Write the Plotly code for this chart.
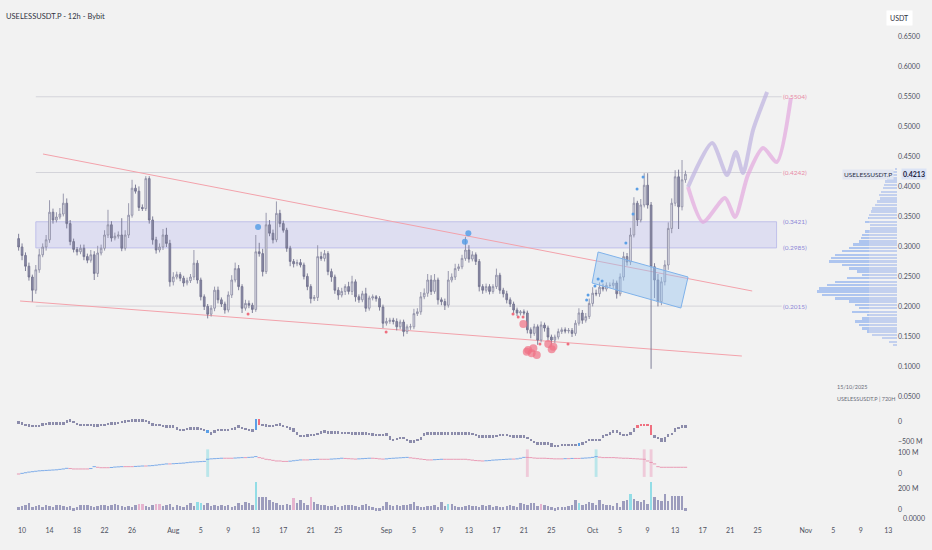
import pandas as pd
import plotly.graph_objects as go

# USELESSUSDT.P 12h candles
FIRST_OPEN = 0.314
CLOSE = [
    0.300, 0.286, 0.268, 0.250, 0.228, 0.262, 0.287, 0.300, 0.312, 0.358,
    0.345, 0.350, 0.355, 0.373, 0.339, 0.309, 0.296, 0.292, 0.298, 0.284,
    0.278, 0.287, 0.256, 0.290, 0.298, 0.320, 0.337, 0.315, 0.318, 0.320,
    0.298, 0.320, 0.353, 0.398, 0.393, 0.366, 0.364, 0.414, 0.345, 0.312,
    0.295, 0.300, 0.320, 0.306, 0.242, 0.250, 0.254, 0.248, 0.240, 0.244,
    0.250, 0.273, 0.245, 0.217, 0.201, 0.188, 0.198, 0.228, 0.212, 0.205,
    0.195, 0.220, 0.245, 0.264, 0.234, 0.198, 0.206, 0.203, 0.196, 0.292,
    0.289, 0.259, 0.337, 0.323, 0.312, 0.356, 0.339, 0.328, 0.298, 0.276,
    0.272, 0.274, 0.270, 0.251, 0.234, 0.214, 0.216, 0.284, 0.281, 0.289,
    0.259, 0.250, 0.228, 0.220, 0.226, 0.234, 0.226, 0.242, 0.217, 0.212,
    0.222, 0.198, 0.215, 0.217, 0.214, 0.200, 0.173, 0.176, 0.178, 0.176,
    0.167, 0.175, 0.159, 0.167, 0.167, 0.189, 0.192, 0.217, 0.223, 0.245,
    0.226, 0.245, 0.212, 0.209, 0.203, 0.245, 0.250, 0.264, 0.267, 0.281,
    0.295, 0.280, 0.287, 0.276, 0.234, 0.228, 0.234, 0.226, 0.234, 0.253,
    0.228, 0.222, 0.212, 0.205, 0.195, 0.190, 0.192, 0.190, 0.162, 0.156,
    0.167, 0.145, 0.170, 0.165, 0.150, 0.145, 0.150, 0.159, 0.162, 0.160,
    0.161, 0.156, 0.173, 0.190, 0.178, 0.184, 0.206, 0.223, 0.222, 0.233,
    0.230, 0.236, 0.236, 0.240, 0.222, 0.250, 0.284, 0.275, 0.320, 0.373,
    0.345, 0.370, 0.403, 0.370, 0.267, 0.245, 0.209, 0.242, 0.270, 0.331,
    0.373, 0.417, 0.367, 0.412, 0.4213,
]
UPPER_WICK = [
    .008, .006, .005, .006, .004, .008, .010, .006, .008, .020,
    .006, .008, .010, .016, .008, .006, .005, .004, .006, .006,
    .005, .008, .006, .012, .006, .008, .025, .006, .006, .006,
    .028, .008, .020, .014, .006, .008, .005, .004, .004, .006,
    .005, .006, .010, .012, .006, .008, .005, .004, .004, .005,
    .005, .022, .005, .004, .004, .004, .005, .006, .006, .004,
    .004, .006, .008, .010, .006, .004, .006, .005, .004, .028,
    .015, .008, .020, .008, .006, .020, .006, .005, .004, .004,
    .004, .005, .006, .004, .005, .004, .004, .019, .008, .006,
    .004, .005, .004, .005, .006, .004, .008, .010, .004, .004,
    .005, .010, .004, .004, .003, .004, .004, .006, .004, .004,
    .005, .004, .004, .004, .005, .008, .006, .008, .008, .010,
    .008, .010, .004, .004, .005, .015, .006, .008, .005, .006,
    .022, .008, .006, .004, .004, .004, .005, .004, .004, .011,
    .004, .004, .005, .004, .004, .004, .003, .004, .004, .004,
    .005, .004, .006, .004, .004, .004, .004, .005, .004, .004,
    .004, .004, .005, .008, .005, .006, .008, .010, .006, .008,
    .006, .005, .005, .006, .004, .006, .008, .006, .012, .010,
    .004, .010, .020, .020, .005, .006, .010, .008, .008, .010,
    .008, .011, .012, .033, .006,
]
LOWER_WICK = [
    .006, .008, .008, .006, .019, .006, .005, .004, .006, .005,
    .006, .004, .004, .004, .008, .006, .005, .006, .004, .006,
    .005, .004, .011, .006, .004, .004, .005, .006, .004, .004,
    .005, .004, .005, .004, .004, .006, .004, .004, .006, .008,
    .006, .004, .005, .006, .008, .006, .004, .005, .006, .004,
    .004, .005, .006, .006, .006, .007, .004, .005, .006, .005,
    .006, .004, .005, .004, .006, .008, .004, .005, .006, .004,
    .005, .008, .004, .005, .006, .004, .006, .004, .006, .008,
    .006, .004, .004, .005, .006, .008, .004, .006, .004, .005,
    .006, .008, .006, .008, .004, .006, .005, .006, .008, .005,
    .004, .006, .004, .004, .005, .006, .008, .004, .004, .005,
    .006, .004, .008, .004, .005, .004, .004, .005, .004, .006,
    .006, .004, .008, .006, .008, .004, .004, .005, .004, .004,
    .004, .006, .004, .006, .008, .006, .004, .005, .004, .004,
    .006, .006, .006, .005, .008, .005, .004, .004, .006, .008,
    .004, .008, .004, .006, .006, .008, .005, .004, .004, .004,
    .004, .006, .004, .004, .006, .004, .004, .005, .004, .005,
    .004, .004, .004, .005, .008, .004, .006, .006, .005, .004,
    .010, .004, .004, .006, .170, .030, .008, .006, .006, .008,
    .008, .005, .037, .006, .005,
]

# first indicator pane (millions)
DELTA_M = [
    -17, -40, -70, -90, -100, -100, -60, -45, -33, -33,
    -33, -33, -33, -20, 50, 40, 0, -50, -75, -75,
    -75, -75, -90, -75, -75, -50, -40, -33, -20, 0,
    10, 20, 33, 33, 33, 33, 33, 20, -40, -60,
    -75, -75, -100, -117, -117, -117, -160, -200, -180, -160,
    -158, -158, -158, -180, -200, -283, -240, -200, -200, -200,
    -200, -180, -158, -117, -117, -150, -180, -200, -208, 83,
    -75, -75, -90, -100, -75, -33, -60, -100, -130, -158,
    -250, -325, -350, -340, -325, -325, -300, -260, -225, -240,
    -258, -258, -258, -258, -270, -275, -280, -283, -283, -283,
    -283, -283, -300, -310, -320, -325, -283, -350, -450, -420,
    -400, -400, -400, -450, -533, -450, -408, -350, -283, -283,
    -283, -283, -283, -283, -283, -283, -283, -283, -283, -283,
    -290, -283, -300, -330, -367, -367, -367, -367, -350, -325,
    -325, -325, -325, -350, -367, -367, -367, -367, -400, -450,
    -500, -533, -533, -533, -533, -617, -600, -575, -575, -575,
    -575, -575, -560, -533, -500, -450, -450, -450, -450, -400,
    -325, -325, -242, -242, -242, -325, -325, -325, -242, -150,
    -75, -75, -75, -75, -325, -367, -400, -492, -367, -300,
    -242, -150, -117, -117, -75,
]
# second indicator pane (millions)
TREND_M = [
    0, 3, 6, 9, 11, 13, 15, 16, 17, 18,
    19, 20, 22, 24, 27, 26, 24, 24, 24, 24,
    24, 26, 35, 32, 30, 30, 30, 31, 33, 34,
    35, 35, 35, 35, 36, 37, 38, 38, 39, 40,
    42, 44, 46, 48, 48, 49, 50, 51, 52, 54,
    56, 57, 58, 59, 60, 70, 72, 73, 74, 75,
    75, 75, 75, 76, 77, 78, 78, 79, 80, 83,
    78, 75, 70, 68, 65, 62, 62, 60, 60, 61,
    63, 65, 67, 67, 67, 68, 69, 70, 70, 70,
    70, 71, 72, 73, 75, 74, 73, 72, 71, 72,
    73, 74, 75, 75, 74, 72, 71, 72, 74, 75,
    76, 77, 78, 79, 77, 75, 73, 71, 69, 67,
    67, 68, 69, 70, 70, 70, 70, 70, 70, 70,
    70, 68, 66, 64, 63, 62, 63, 64, 66, 67,
    68, 69, 70, 71, 71, 72, 75, 79, 79, 78,
    76, 75, 75, 75, 74, 73, 72, 72, 72, 73,
    73, 74, 74, 74, 75, 76, 77, 79, 83, 80,
    78, 78, 78, 78, 77, 76, 75, 75, 74, 73,
    72, 71, 70, 62, 55, 48, 35, 32, 32, 32,
    32, 32, 32, 32, 32,
]
VOLUME_M = [
    25, 38, 44, 70, 32, 40, 48, 32, 44, 38,
    32, 44, 48, 38, 32, 38, 16, 32, 44, 48,
    44, 38, 32, 38, 44, 48, 38, 44, 57, 50,
    38, 32, 38, 32, 44, 57, 57, 38, 32, 44,
    57, 57, 38, 48, 57, 32, 44, 38, 32, 44,
    63, 38, 79, 63, 44, 63, 38, 44, 38, 48,
    38, 44, 32, 38, 63, 44, 79, 63, 44, 270,
    127, 127, 121, 95, 79, 63, 48, 48, 57, 44,
    111, 63, 95, 70, 48, 127, 79, 57, 48, 48,
    38, 38, 48, 32, 38, 48, 48, 44, 38, 32,
    44, 57, 38, 25, 16, 16, 38, 79, 44, 38,
    48, 38, 44, 48, 57, 76, 38, 32, 32, 38,
    38, 44, 32, 79, 38, 57, 57, 38, 32, 32,
    38, 44, 38, 38, 32, 44, 38, 44, 32, 38,
    25, 32, 38, 44, 38, 32, 63, 57, 48, 70,
    63, 38, 57, 44, 38, 32, 16, 25, 25, 32,
    38, 44, 95, 63, 48, 57, 79, 63, 44, 95,
    57, 48, 48, 38, 63, 32, 86, 95, 149, 102,
    86, 76, 95, 60, 270, 121, 95, 86, 149, 86,
    133, 133, 133, 133, 16,
]
VOL_CYAN = [52, 53, 69, 125, 163, 178, 184]
VOL_PINK = [35, 36, 40, 41, 80, 85, 152]
DELTA_BLUE = [55, 69, 163]
DELTA_RED = [70, 180, 181, 182, 183, 184]
TREND_FLAGS = {55: "cyan", 148: "pink", 168: "cyan", 182: "pink", 184: "pink"}

# visible range volume profile
VP_PRICE = [0.430, 0.425, 0.420, 0.414, 0.409, 0.403, 0.398, 0.392, 0.387, 0.381,
            0.376, 0.370, 0.364, 0.359, 0.353, 0.348, 0.342, 0.337, 0.331, 0.326,
            0.320, 0.315, 0.309, 0.304, 0.298, 0.293, 0.287, 0.282, 0.276, 0.270,
            0.264, 0.259, 0.253, 0.248, 0.242, 0.237, 0.231, 0.226, 0.220, 0.214,
            0.209, 0.203, 0.198, 0.192, 0.187, 0.181, 0.176, 0.170, 0.164, 0.159,
            0.153, 0.148, 0.142, 0.137]
VP_VOL = [2, 5, 8, 10, 12, 13, 14, 16, 18, 17, 20, 22, 25, 26, 28, 29, 32, 27, 27, 32,
          35, 36, 38, 44, 48, 55, 62, 66, 68, 55, 48, 40, 35, 50, 62, 70, 78, 80, 75, 62,
          48, 42, 38, 45, 30, 35, 42, 38, 35, 30, 25, 15, 8, 4]

# drawings
LEVELS = [0.5504, 0.4242, 0.2015]
LEVEL_COLORS = ["#e88aa6", "#e88aa6", "#8f88d8"]
ZONE = [0.2985, 0.3421]
LEVEL_START, LEVEL_END, ZONE_END = "2025-07-12", "2025-10-28 12:00", "2025-10-27 18:00"
LABEL_AT = "2025-10-30 12:00"
CHANNEL_UP_T, CHANNEL_UP_P = ["2025-07-13 01:00", "2025-10-24 05:00"], [0.455, 0.2267]
CHANNEL_LO_T, CHANNEL_LO_P = ["2025-07-09 17:00", "2025-10-22 17:00"], [0.210, 0.1183]
BOX_T = ["2025-10-01 19:00", "2025-10-14 21:00", "2025-10-13 20:00", "2025-09-30 22:00", "2025-10-01 19:00"]
BOX_P = [0.2917, 0.250, 0.1983, 0.240, 0.2917]
PATH_A_T = ["2025-10-14 21:00", "2025-10-18 09:00", "2025-10-20 13:00", "2025-10-21 20:00",
            "2025-10-22 21:00", "2025-10-24 08:00", "2025-10-26 09:00"]
PATH_A_P = [0.400, 0.4733, 0.420, 0.4583, 0.4233, 0.495, 0.5583]
PATH_B_T = ["2025-10-14 21:00", "2025-10-17 01:00", "2025-10-20 06:00", "2025-10-21 17:00",
            "2025-10-23 14:00", "2025-10-25 19:00", "2025-10-27 19:00", "2025-10-29 20:00"]
PATH_B_P = [0.400, 0.3417, 0.3817, 0.350, 0.420, 0.465, 0.4417, 0.5483]

# signal dots
BLUE_BIG_T = ["2025-08-13 08:00", "2025-09-12 22:00", "2025-09-12 10:00"]
BLUE_BIG_P = [0.3333, 0.3228, 0.3088]
PINK_BIG_T = ["2025-09-21 15:00", "2025-09-22 09:00", "2025-09-22 03:00", "2025-09-22 21:00",
              "2025-09-21 10:00", "2025-09-24 13:00", "2025-09-25 07:00", "2025-09-25 01:00",
              "2025-09-20 22:00"]
PINK_BIG_P = [0.1283, 0.1311, 0.1228, 0.120, 0.1255, 0.1383, 0.1338, 0.1295, 0.1717]
RED_SMALL_T = ["2025-08-11 21:00", "2025-08-31 23:00", "2025-09-19 10:00", "2025-09-20 04:00",
               "2025-09-20 21:00", "2025-09-23 08:00", "2025-09-27 10:00"]
RED_SMALL_P = [0.1883, 0.1583, 0.1883, 0.1833, 0.1833, 0.1383, 0.1383]
BLUE_SMALL_T = ["2025-09-30 03:00", "2025-09-30 08:00", "2025-10-01 08:00", "2025-10-01 19:00",
                "2025-10-02 09:00", "2025-10-05 20:00", "2025-10-06 21:00", "2025-10-07 11:00",
                "2025-10-08 08:00"]
BLUE_SMALL_P = [0.2117, 0.220, 0.235, 0.2467, 0.2433, 0.3067, 0.355, 0.3967, 0.4167]

TICK_DATES = ["2025-07-10", "2025-07-14", "2025-07-18", "2025-07-22", "2025-07-26",
              "2025-08-01", "2025-08-05", "2025-08-09", "2025-08-13", "2025-08-17",
              "2025-08-21", "2025-08-25", "2025-09-01", "2025-09-05", "2025-09-09",
              "2025-09-13", "2025-09-17", "2025-09-21", "2025-09-25", "2025-10-01",
              "2025-10-05", "2025-10-09", "2025-10-13", "2025-10-17", "2025-10-21",
              "2025-10-25", "2025-11-01", "2025-11-05", "2025-11-09", "2025-11-13"]
TICK_TEXT = ["10", "14", "18", "22", "26", "Aug", "5", "9", "13", "17", "21", "25",
             "Sep", "5", "9", "13", "17", "21", "25", "Oct", "5", "9", "13", "17",
             "21", "25", "Nov", "5", "9", "13"]
PRICE_TICKS = [0.05, 0.10, 0.15, 0.20, 0.25, 0.30, 0.35, 0.40, 0.45, 0.50, 0.55, 0.60, 0.65]

BG = "#f2f2f2"
FONT = "Lato"
GRAY_TXT = "#4e5160"

dates = pd.date_range("2025-07-09 12:00", periods=len(CLOSE), freq="12h")
opens = [FIRST_OPEN] + CLOSE[:-1]
highs = [max(o, c) + w for o, c, w in zip(opens, CLOSE, UPPER_WICK)]
lows = [min(o, c) - w for o, c, w in zip(opens, CLOSE, LOWER_WICK)]

fig = go.Figure()

# parallelogram channel box
fig.add_trace(go.Scatter(x=BOX_T, y=BOX_P, mode="lines", fill="toself",
                         fillcolor="rgba(150,195,240,0.45)", line=dict(color="#7fb2ea", width=1),
                         hoverinfo="skip", showlegend=False))

# volume profile on the right edge (blue tips, paler near the scale)
fig.add_trace(go.Bar(x=VP_VOL, y=VP_PRICE, orientation="h", xaxis="x2", yaxis="y",
                     width=0.0042, marker=dict(color="rgba(105,152,236,0.5)", line=dict(width=0)),
                     hoverinfo="skip", showlegend=False))
fig.add_trace(go.Bar(x=[min(v, 28) for v in VP_VOL], y=VP_PRICE, orientation="h", xaxis="x2", yaxis="y",
                     width=0.0042, marker=dict(color="rgba(214,216,236,0.55)", line=dict(width=0)),
                     hoverinfo="skip", showlegend=False))

fig.add_trace(go.Candlestick(
    x=dates, open=opens, high=highs, low=lows, close=CLOSE,
    increasing=dict(fillcolor="#e8e8ef", line=dict(color="#8e8ea6", width=0.9)),
    decreasing=dict(fillcolor="#8a8aa7", line=dict(color="#74748f", width=0.9)),
    whiskerwidth=0, showlegend=False, hoverinfo="skip"))

# projected paths
fig.add_trace(go.Scatter(x=PATH_A_T, y=PATH_A_P, mode="lines",
                         line=dict(color="rgba(190,178,224,0.7)", width=4, shape="spline", smoothing=0.7),
                         hoverinfo="skip", showlegend=False))
fig.add_trace(go.Scatter(x=PATH_B_T, y=PATH_B_P, mode="lines",
                         line=dict(color="rgba(226,168,222,0.7)", width=4, shape="spline", smoothing=0.7),
                         hoverinfo="skip", showlegend=False))

# signal dots
fig.add_trace(go.Scatter(x=PINK_BIG_T, y=PINK_BIG_P, mode="markers",
                         marker=dict(size=8, color="rgba(240,112,132,0.7)"), hoverinfo="skip", showlegend=False))
fig.add_trace(go.Scatter(x=BLUE_BIG_T, y=BLUE_BIG_P, mode="markers",
                         marker=dict(size=6, color="rgba(80,155,230,0.8)"), hoverinfo="skip", showlegend=False))
fig.add_trace(go.Scatter(x=RED_SMALL_T, y=RED_SMALL_P, mode="markers",
                         marker=dict(size=3, color="#ef6f7f"), hoverinfo="skip", showlegend=False))
fig.add_trace(go.Scatter(x=BLUE_SMALL_T, y=BLUE_SMALL_P, mode="markers",
                         marker=dict(size=3, color="#5b9fe6"), hoverinfo="skip", showlegend=False))

# pane 2: delta blocks
delta_open = [DELTA_M[0]] + DELTA_M[:-1]
delta_col = ["#5b9fe6" if i in DELTA_BLUE else "#ef6f7f" if i in DELTA_RED else "#8c8cab"
             for i in range(len(DELTA_M))]
fig.add_trace(go.Bar(x=dates, y=[max(abs(c - o), 60) for o, c in zip(delta_open, DELTA_M)],
                     base=[min(o, c) - 30 if abs(c - o) < 60 else min(o, c) for o, c in zip(delta_open, DELTA_M)],
                     width=3.0e7, marker=dict(color=delta_col, line=dict(width=0)),
                     yaxis="y2", hoverinfo="skip", showlegend=False))

# pane 3: trend line as short dashes, blue while rising, pink otherwise
trend_col = ["rgba(104,160,232,0.85)" if i > 0 and v > TREND_M[i - 1] else "rgba(232,140,170,0.85)"
             for i, v in enumerate(TREND_M)]
fig.add_trace(go.Scatter(x=dates, y=TREND_M, mode="markers",
                         marker=dict(symbol="line-ew-open", size=2.4, color=trend_col, line=dict(width=1)),
                         yaxis="y3", hoverinfo="skip", showlegend=False))

# pane 4: volume
vol_col = ["#93dde6" if i in VOL_CYAN else "#e6b4cf" if i in VOL_PINK else "#9c9cbd"
           for i in range(len(VOLUME_M))]
fig.add_trace(go.Bar(x=dates, y=VOLUME_M, width=3.0e7, marker=dict(color=vol_col, line=dict(width=0)),
                     yaxis="y4", hoverinfo="skip", showlegend=False))

shapes = []
shapes.append(dict(type="rect", xref="x", yref="y", x0=LEVEL_START, x1=ZONE_END, y0=ZONE[0], y1=ZONE[1],
                   fillcolor="rgba(198,198,240,0.45)", line=dict(color="#b7b7e8", width=0.8), layer="below"))
for lv in LEVELS:
    shapes.append(dict(type="line", xref="x", yref="y", x0=LEVEL_START, x1=LEVEL_END, y0=lv, y1=lv,
                       line=dict(color="#d4d4da", width=1), layer="below"))
for tt, pp in [(CHANNEL_UP_T, CHANNEL_UP_P), (CHANNEL_LO_T, CHANNEL_LO_P)]:
    shapes.append(dict(type="line", xref="x", yref="y", x0=tt[0], x1=tt[1], y0=pp[0], y1=pp[1],
                       line=dict(color="#f3a2ab", width=1), layer="below"))
flag_colors = {"cyan": "rgba(140,220,228,0.55)", "pink": "rgba(236,170,196,0.55)"}
for i, c in TREND_FLAGS.items():
    t = dates[i]
    shapes.append(dict(type="rect", xref="x", yref="y3 domain",
                       x0=t - pd.Timedelta(hours=5), x1=t + pd.Timedelta(hours=5), y0=0.12, y1=0.93,
                       fillcolor=flag_colors[c], line=dict(width=0), layer="below"))

annotations = []
small = dict(family=FONT, size=7, color=GRAY_TXT)
for lv, col in zip(LEVELS + ZONE, LEVEL_COLORS + ["#8f88d8", "#8f88d8"]):
    annotations.append(dict(x=LABEL_AT, y=lv, xref="x", yref="y", text=f"({lv:.4f})", showarrow=False,
                            font=dict(family=FONT, size=6.5, color=col)))
annotations += [
    dict(x=0.004, y=0.981, xref="paper", yref="paper", xanchor="left", text="USELESSUSDT.P - 12h - Bybit",
         showarrow=False, font=dict(family=FONT, size=7.5, color="#2f3241")),
    dict(x=1.018, y=0.981, xref="paper", yref="paper", text="USDT", showarrow=False,
         font=dict(family=FONT, size=7, color="#2f3241"), bgcolor="#ffffff", borderpad=3),
    dict(x=0.997, y=CLOSE[-1], xref="paper", yref="y", xanchor="right", text="USELESSUSDT.P",
         showarrow=False, font=dict(family=FONT, size=6.5, color="#2a2e45"), bgcolor="#e2e6f1", borderpad=1),
    dict(x=1.004, y=CLOSE[-1], xref="paper", yref="y", xanchor="left", text="<b>0.4213</b>",
         showarrow=False, font=dict(family=FONT, size=7, color="#1e2240"), bgcolor="#dbe3f5", borderpad=1),
    dict(x=0.931, y=0.253, xref="paper", yref="paper", xanchor="left", text="15/10/2025",
         showarrow=False, font=dict(family=FONT, size=5.5, color="#6a6d7a")),
    dict(x=0.931, y=0.231, xref="paper", yref="paper", xanchor="left", text="USELESSUSDT.P | 720H",
         showarrow=False, font=dict(family=FONT, size=5.5, color="#6a6d7a")),
    dict(x=1.005, y=0.002, xref="paper", yref="paper", xanchor="left", text="0.0000",
         showarrow=False, font=small),
]

axis_common = dict(side="right", anchor="x", showgrid=False, zeroline=False, showline=False,
                   ticks="", tickfont=small, fixedrange=True)

fig.update_layout(
    width=932, height=550,
    margin=dict(l=0, r=35, t=0, b=25),
    paper_bgcolor=BG, plot_bgcolor=BG,
    font=dict(family=FONT, color=GRAY_TXT),
    showlegend=False, bargap=0, barmode="overlay",
    shapes=shapes, annotations=annotations,
    xaxis=dict(type="date", range=["2025-07-06 19:00", "2025-11-14 06:30"], anchor="free", position=0,
               tickvals=TICK_DATES, ticktext=TICK_TEXT, tickfont=small, showgrid=False,
               zeroline=False, showline=False, ticks="", rangeslider=dict(visible=False)),
    xaxis2=dict(overlaying="x", anchor="y", range=[897, 0], visible=False),
    yaxis=dict(domain=[0.2286, 1], range=[0.0367, 0.7117], tickvals=PRICE_TICKS,
               ticktext=[f"{v:.4f}" for v in PRICE_TICKS], **axis_common),
    yaxis2=dict(domain=[0.1486, 0.2248], range=[-625, 375], tickvals=[0, -500],
                ticktext=["0", "\u2212500 M"], **axis_common),
    yaxis3=dict(domain=[0.0838, 0.1486], range=[-33.3, 128.6], tickvals=[0, 100],
                ticktext=["0", "100 M"], **axis_common),
    yaxis4=dict(domain=[0.0152, 0.0838], range=[-66.7, 276], tickvals=[0, 200],
                ticktext=["0", "200 M"], **axis_common),
)

# page body has a default 8px margin; drop it so the figure fills the window
fig.write_html("out.html", config={"displayModeBar": False},
               post_script="document.body.style.margin='0';")
